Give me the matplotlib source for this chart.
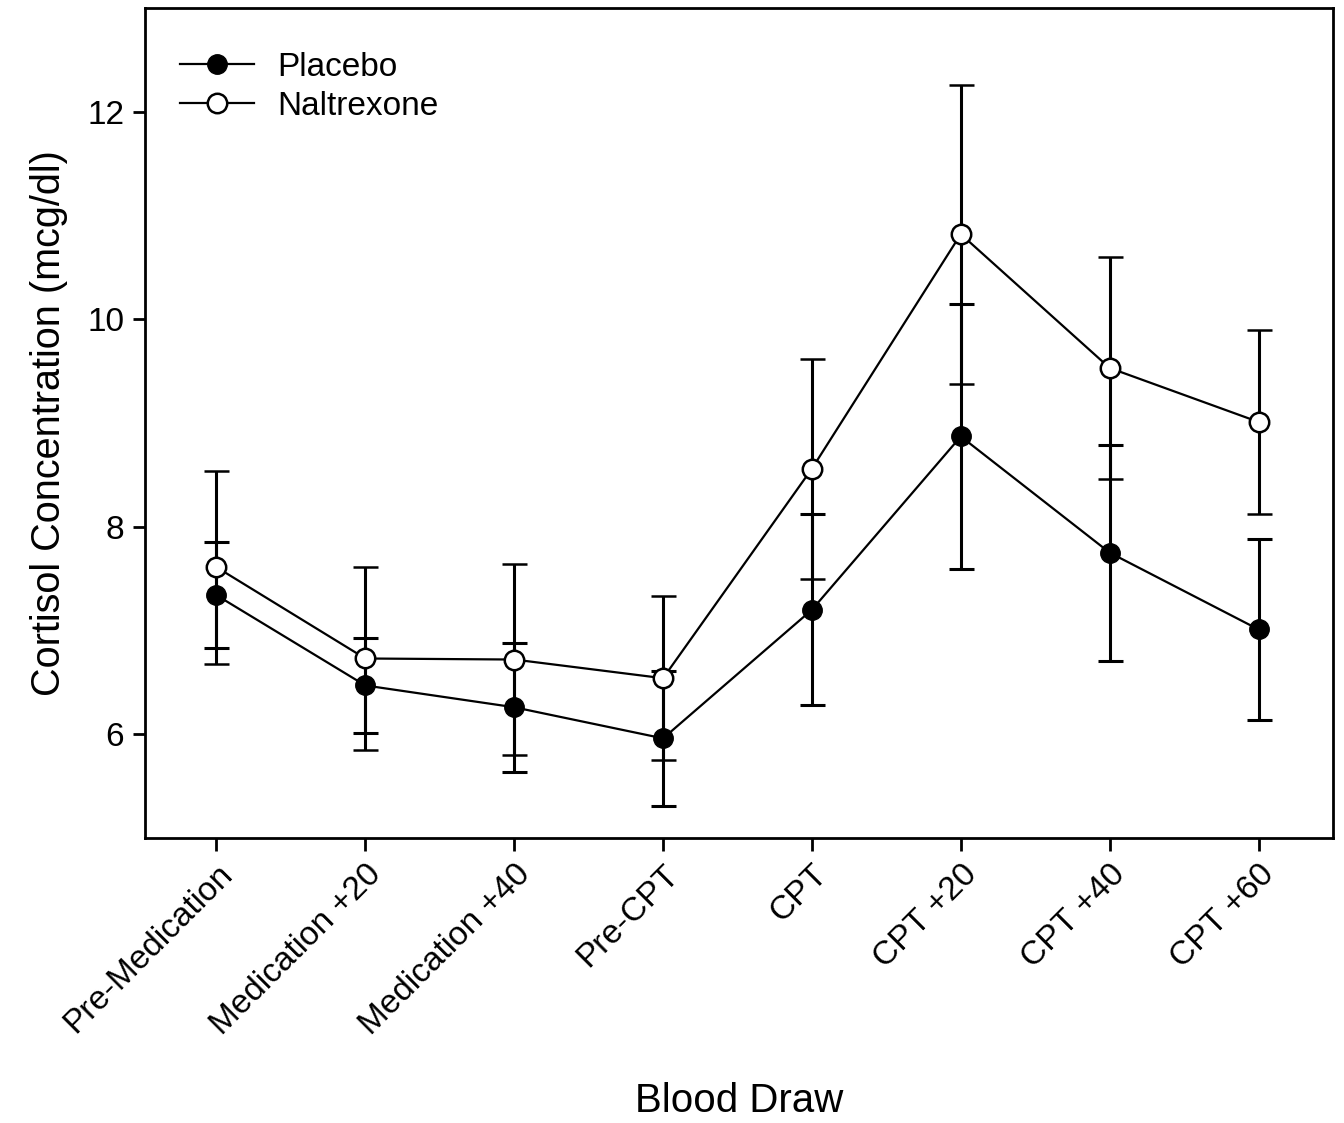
import matplotlib
matplotlib.use("Agg")
import matplotlib.pyplot as plt
from matplotlib.lines import Line2D

plt.rcParams['font.family'] = ['Liberation Sans', 'DejaVu Sans']

# blood draw time points and cortisol means (mcg/dl) with error bars
draws = ['Pre-Medication', 'Medication +20', 'Medication +40', 'Pre-CPT',
         'CPT', 'CPT +20', 'CPT +40', 'CPT +60']
placebo = [7.34, 6.47, 6.26, 5.96, 7.20, 8.87, 7.75, 7.01]
placebo_err = [0.51, 0.46, 0.62, 0.65, 0.92, 1.28, 1.04, 0.87]
naltrexone = [7.61, 6.73, 6.72, 6.54, 8.56, 10.82, 9.53, 9.01]
naltrexone_err = [0.93, 0.88, 0.92, 0.79, 1.06, 1.44, 1.07, 0.89]

x = list(range(len(draws)))

fig = plt.figure(figsize=(13.44, 11.23), dpi=100)
ax = fig.add_axes([0.1079, 0.2538, 0.8839, 0.7391])

ax.errorbar(x, placebo, yerr=placebo_err, fmt='-o', color='black',
            markerfacecolor='black', markeredgecolor='black', markersize=14,
            linewidth=1.6, elinewidth=2.2, capsize=9, capthick=2.2,
            zorder=2)
ax.errorbar(x, naltrexone, yerr=naltrexone_err, fmt='-o', color='black',
            markerfacecolor='white', markeredgecolor='black', markersize=14,
            markeredgewidth=1.8, linewidth=1.6, elinewidth=2.2, capsize=9,
            capthick=2.2, zorder=3)

ax.set_xlim(-0.48, 7.5)
ax.set_ylim(5, 13)
ax.set_yticks([6, 8, 10, 12])
ax.set_xticks(x)
ax.set_xticklabels(draws, rotation=45, ha='right', va='top',
                   rotation_mode='anchor')
ax.tick_params(direction='out', length=9, width=2, labelsize=24, pad=6)
for s in ax.spines.values():
    s.set_linewidth(2)

ax.set_xlabel('Blood Draw', fontsize=29, labelpad=29)
ax.set_ylabel('Cortisol Concentration (mcg/dl)', fontsize=28.5, labelpad=14)

# legend without the error bars, like the original
handles = [
    Line2D([], [], color='black', linewidth=1.6, marker='o', markersize=14,
           markerfacecolor='black', markeredgecolor='black'),
    Line2D([], [], color='black', linewidth=1.6, marker='o', markersize=14,
           markerfacecolor='white', markeredgecolor='black',
           markeredgewidth=1.8),
]
ax.legend(handles, ['Placebo', 'Naltrexone'], loc='upper left',
          bbox_to_anchor=(0, 0.990), frameon=False, fontsize=24,
          handlelength=2.2, borderaxespad=0.66, handletextpad=0.7,
          labelspacing=0.25)

fig.savefig('out.png', dpi=100)
